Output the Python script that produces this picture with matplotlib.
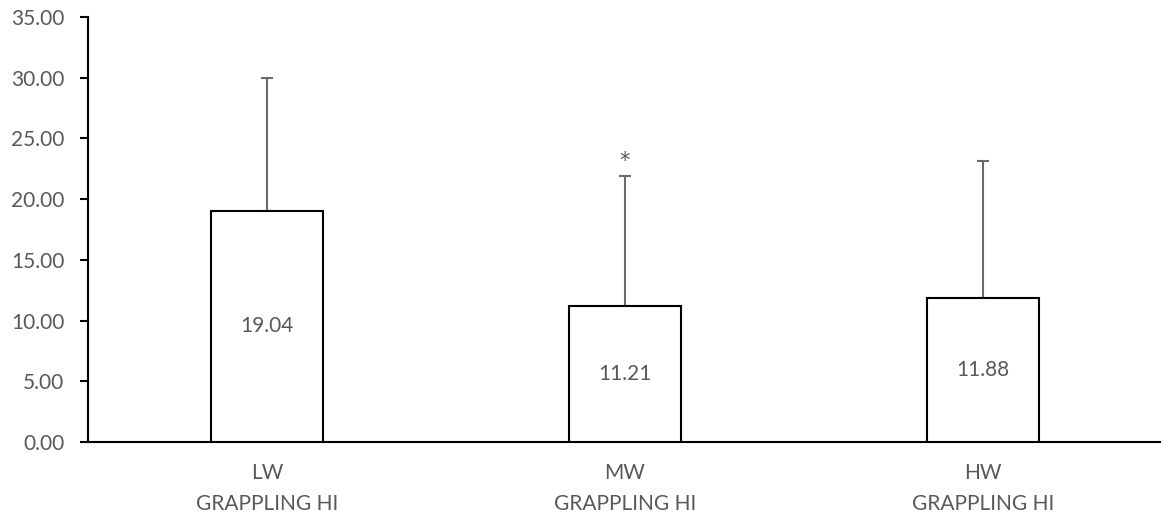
import matplotlib
matplotlib.use("Agg")
import matplotlib.pyplot as plt
import numpy as np

categories = ["LW\nGRAPPLING HI", "MW\nGRAPPLING HI", "HW\nGRAPPLING HI"]
means = [19.04, 11.21, 11.88]
sd_upper = [10.96, 10.69, 11.27]
markers = ["", "*", ""]
y_ticks = [0, 5, 10, 15, 20, 25, 30, 35]

plt.rcParams['font.family'] = ['Lato', 'DejaVu Sans']
text_color = "#595959"

W, H = 1161, 514
fig = plt.figure(figsize=(W / 100, H / 100), dpi=100)
ax = fig.add_axes([88 / W, 72 / H, 1074 / W, 425 / H])

x = np.arange(len(categories))
ax.bar(x, means, width=0.313, color="white", edgecolor="black", linewidth=1.5, zorder=3)
ax.errorbar(x, means, yerr=[np.zeros(len(means)), sd_upper], fmt="none",
            ecolor="#6b6b6b", elinewidth=1.5, capsize=4.3, capthick=1.5, zorder=2)

for xi, m, s, mk in zip(x, means, sd_upper, markers):
    ax.text(xi, m / 2, f"{m:.2f}", ha="center", va="center", fontsize=15, color=text_color, zorder=4)
    if mk:
        ax.annotate(mk, (xi, m + s), xytext=(0, 4), textcoords="offset points",
                    ha="center", va="bottom", fontsize=15, color=text_color,
                    family=["DejaVu Sans"])

ax.set_xlim(-0.5, 2.5)
ax.set_ylim(0, 35)
ax.set_yticks(y_ticks)
ax.set_yticklabels([f"{v:.2f}" for v in y_ticks], fontsize=15, color=text_color)
ax.set_xticks(x)
ax.set_xticklabels(categories, fontsize=15, color=text_color, linespacing=1.7)
ax.tick_params(axis="x", length=0, pad=15)
ax.tick_params(axis="y", length=6, width=1.5, color="black", pad=11, direction="out")

for sp in ["top", "right"]:
    ax.spines[sp].set_visible(False)
for sp in ["left", "bottom"]:
    ax.spines[sp].set_linewidth(1.5)
    ax.spines[sp].set_color("black")

fig.savefig("out.png", dpi=100)
